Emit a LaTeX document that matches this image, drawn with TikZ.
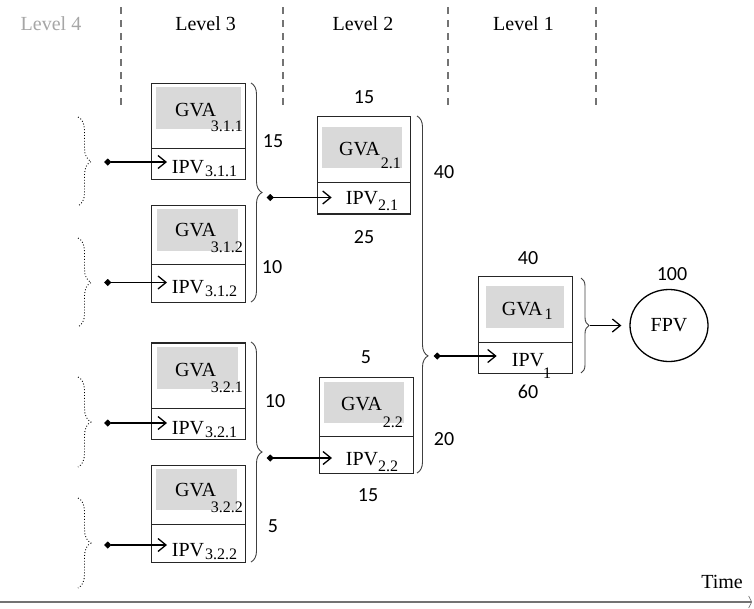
\documentclass[tikz,border=0pt]{standalone}
\usepackage{fontspec}
\setmainfont{Liberation Serif}
\newfontfamily\numfont{Carlito}
\usetikzlibrary{arrows.meta,decorations.pathreplacing,shapes.geometric}
\newcommand\subsz{\fontsize{16}{16}\selectfont}
\begin{document}
\begin{tikzpicture}[x=1pt,y=-1pt,
  cell/.style={draw=black!85, line width=1.4pt, inner sep=0pt, anchor=north west},
  shadebox/.style={fill=black!15, inner sep=0pt, anchor=north west},
  txt/.style={inner sep=0pt, anchor=base west, font=\fontsize{20}{24}\selectfont},
  num/.style={font=\numfont\fontsize{20}{24}\selectfont, inner sep=0pt},
  lvl/.style={font=\fontsize{20}{24}\selectfont, inner sep=0pt, anchor=base},
  sepline/.style={draw=black!55, line width=1.1pt, dash pattern=on 7pt off 6pt},
  conn/.style={line width=1.3pt, {Diamond[length=7.5pt,width=7pt]}-{Straight Barb[length=8pt,width=13pt,line width=1.3pt]}},
  plainarrow/.style={line width=1.3pt, -{Straight Barb[length=8pt,width=13pt,line width=1.3pt]}},
  sbrace/.style={draw=black!75, line width=0.9pt, decorate, decoration={brace, amplitude=11pt}},
  dbrace/.style={draw, line width=0.9pt, dotted, decorate, decoration={brace, amplitude=13pt}},
  timeline/.style={draw=black!55, line width=1.5pt, -{Straight Barb[length=3pt,width=12pt,line width=0.6pt]}},
]
\useasboundingbox (0,0) rectangle (754,608);

% level headers and separators
\node[lvl, text=black!35] (l4) at (51,30) {Level 4};
\node[lvl] (l3) at (205.6,30) {Level 3};
\node[lvl] (l2) at (363,30) {Level 2};
\node[lvl] (l1) at (523.5,30) {Level 1};
\foreach \xx/\nm in {121/s1,283/s2,448/s3,596/s4}{
  \coordinate (\nm a) at (\xx,7);
  \coordinate (\nm b) at (\xx,106);
  \draw[sepline] (\nm a) -- (\nm b);
}

% ---------- Level 3 boxes ----------
% 3.1.1
\node[shadebox, minimum width=85pt, minimum height=42pt] (s311) at (156,87) {};
\node[cell, minimum width=94pt, minimum height=65pt] (g311) at (151,83) {};
\node[cell, minimum width=94pt, minimum height=31pt] (i311) at (151,148) {};
\node[txt] (tg311) at (175,116.7) {GVA\kern-5pt\raisebox{-15pt}{\subsz 3.1.1}};
\node[txt] (ti311) at (171.7,173) {IPV\kern1pt\raisebox{-3pt}{\subsz 3.1.1}};
% 3.1.2
\node[shadebox, minimum width=81pt, minimum height=42pt] (s312) at (157,209) {};
\node[cell, minimum width=94pt, minimum height=59pt] (g312) at (151,205) {};
\node[cell, minimum width=94pt, minimum height=38pt] (i312) at (151,264) {};
\node[txt] (tg312) at (175,236.7) {GVA\kern-5pt\raisebox{-16pt}{\subsz 3.1.2}};
\node[txt] (ti312) at (171.7,293) {IPV\kern1pt\raisebox{-3pt}{\subsz 3.1.2}};
% 3.2.1
\node[shadebox, minimum width=81pt, minimum height=42pt] (s321) at (157,347) {};
\node[cell, minimum width=94pt, minimum height=65.4pt] (g321) at (151,342.3) {};
\node[cell, minimum width=94pt, minimum height=31.3pt] (i321) at (151,407.7) {};
\node[txt] (tg321) at (175,376.7) {GVA\kern-5pt\raisebox{-16pt}{\subsz 3.2.1}};
\node[txt] (ti321) at (171.7,434) {IPV\kern1pt\raisebox{-3pt}{\subsz 3.2.1}};
% 3.2.2
\node[shadebox, minimum width=81pt, minimum height=41pt] (s322) at (156,469) {};
\node[cell, minimum width=94pt, minimum height=59pt] (g322) at (151,465) {};
\node[cell, minimum width=94pt, minimum height=37.7pt] (i322) at (151,524) {};
\node[txt] (tg322) at (175,496.7) {GVA\kern-5pt\raisebox{-16pt}{\subsz 3.2.2}};
\node[txt] (ti322) at (171.7,556) {IPV\kern1pt\raisebox{-3pt}{\subsz 3.2.2}};

% ---------- Level 2 boxes ----------
\node[shadebox, minimum width=80pt, minimum height=41pt] (s21) at (322,127) {};
\node[cell, minimum width=93.3pt, minimum height=65.7pt] (g21) at (316.7,116) {};
\node[cell, minimum width=93.3pt, minimum height=31.6pt] (i21) at (316.7,181.7) {};
\node[txt] (tg21) at (339,155) {GVA\kern1pt\raisebox{-13pt}{\subsz 2.1}};
\node[txt] (ti21) at (345.7,204) {IPV\raisebox{-6pt}{\subsz 2.1}};

\node[shadebox, minimum width=80pt, minimum height=41pt] (s22) at (324,382) {};
\node[cell, minimum width=93.7pt, minimum height=59.3pt] (g22) at (319,376.7) {};
\node[cell, minimum width=93.7pt, minimum height=37pt] (i22) at (319,436) {};
\node[txt] (tg22) at (341,410) {GVA\kern1pt\raisebox{-17pt}{\subsz 2.2}};
\node[txt] (ti22) at (345.7,465) {IPV\raisebox{-6pt}{\subsz 2.2}};

% ---------- Level 1 box ----------
\node[shadebox, minimum width=78pt, minimum height=41.7pt] (s1) at (486,286) {};
\node[cell, minimum width=94pt, minimum height=66.3pt] (g1) at (478,275.7) {};
\node[cell, minimum width=94pt, minimum height=31pt] (i1) at (478,342) {};
\node[txt] (tg1) at (501.7,315) {GVA\kern2pt\raisebox{-4pt}{\subsz 1}};
\node[txt] (ti1) at (511.7,366) {IPV\kern-1pt\raisebox{-12pt}{\subsz 1}};

% FPV
\node[draw, ellipse, line width=1.3pt, minimum width=78pt, minimum height=72pt, inner sep=0pt,
      font=\fontsize{20}{24}\selectfont] (fpv) at (669,325.5) {FPV};

% ---------- braces ----------
\draw[dbrace] (78,117) -- (78,206);
\draw[dbrace] (78,238) -- (78,327);
\draw[dbrace] (78,377) -- (78,467);
\draw[dbrace] (78,498) -- (78,588);
\draw[sbrace] (251,83) -- (251,302);
\draw[sbrace] (251,342) -- (251,562);
\draw[sbrace, decoration={aspect=0.672}] (417,116) -- (417,473);
\draw[sbrace, decoration={amplitude=8pt}] (581,278) -- (581,373);

% ---------- connectors ----------
\coordinate (d311) at (104,162);
\coordinate (d312) at (104,282.5);
\coordinate (d321) at (104,423);
\coordinate (d322) at (104,545);
\coordinate (d31) at (266.5,197.5);
\coordinate (d32) at (266.5,458);
\coordinate (d2) at (433.5,356);
\coordinate (b1) at (590,325.5);
\draw[conn, shorten >=-16pt] (d311) -- (d311 -| i311.west);
\draw[conn, shorten >=-16pt] (d312) -- (d312 -| i312.west);
\draw[conn, shorten >=-16pt] (d321) -- (d321 -| i321.west);
\draw[conn, shorten >=-16pt] (d322) -- (d322 -| i322.west);
\draw[conn, shorten >=-15pt] (d31) -- (d31 -| i21.west);
\draw[conn, shorten >=-13pt] (d32) -- (d32 -| i22.west);
\draw[conn, shorten >=-18.7pt] (d2) -- (d2 -| i1.west);
\draw[plainarrow, shorten >=8pt] (b1) -- (fpv.west);

% ---------- numbers ----------
\node[num] (n15a) at (273,141) {15};
\node[num] (n10a) at (272,267) {10};
\node[num] (n10b) at (275,401) {10};
\node[num] (n5a) at (273,526) {5};
\node[num] (n15b) at (364,97.5) {15};
\node[num] (n25) at (364,237) {25};
\node[num] (n5b) at (366,357) {5};
\node[num] (n15c) at (368,495) {15};
\node[num] (n40a) at (444,172) {40};
\node[num] (n20) at (444,439) {20};
\node[num] (n40b) at (528,258) {40};
\node[num] (n60) at (528,392) {60};
\node[num] (n100) at (672,274) {100};

% ---------- time axis ----------
\node[lvl] (time) at (722,588) {Time};
\coordinate (t0) at (0,602);
\coordinate (t1) at (752,602);
\draw[timeline] (t0) -- (t1);
\end{tikzpicture}
\end{document}
